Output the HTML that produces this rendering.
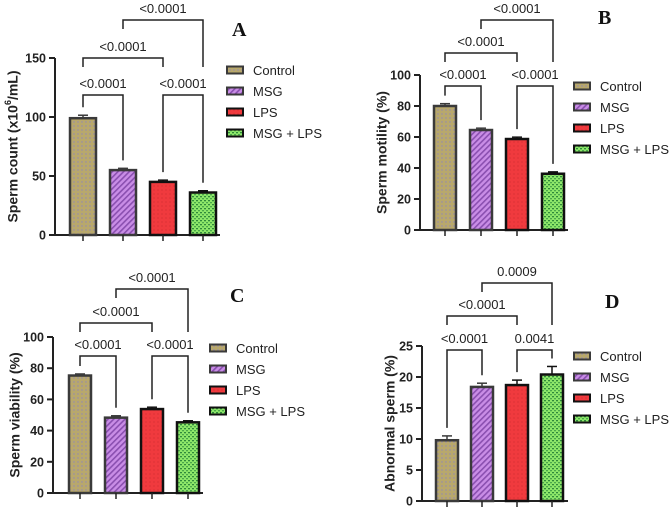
<!DOCTYPE html>
<html><head><meta charset="utf-8"><style>
html,body{margin:0;padding:0;background:#fff;}
svg{display:block;font-family:"Liberation Sans",sans-serif;}
</style></head><body>
<svg id="fig" width="669" height="509" viewBox="0 0 669 509">
<defs>
<pattern id="pCtrl" width="4" height="4" patternUnits="userSpaceOnUse"><rect width="4" height="4" fill="#b8a86c"/><circle cx="2" cy="2" r="0.7" fill="#8f86b8"/></pattern>
<pattern id="pMsg" width="4" height="4" patternUnits="userSpaceOnUse" patternTransform="rotate(45)"><rect width="4" height="4" fill="#c98de6"/><rect width="1.6" height="4" fill="#8a4fb0"/></pattern>
<pattern id="pLps" width="4" height="4" patternUnits="userSpaceOnUse"><rect width="4" height="4" fill="#f03a3e"/><circle cx="2" cy="2" r="0.6" fill="#d02a30"/></pattern>
<pattern id="pMix" width="4" height="4" patternUnits="userSpaceOnUse"><rect width="4" height="4" fill="#8ee86a"/><rect x="0" y="0" width="2" height="1.3" fill="#2f8a3a"/><rect x="2" y="2" width="2" height="1.3" fill="#4aa84a"/></pattern>
</defs>
</svg>
<script>
const groups = ["Control","MSG","LPS","MSG + LPS"];
const valuesA = [99, 55, 45, 36];
const errorsA = [2.5, 1.5, 1.5, 1.5];
const valuesB = [80, 64.5, 58.7, 36.3];
const errorsB = [1.5, 1.2, 1.2, 1.2];
const valuesC = [75.3, 48.3, 53.8, 45.3];
const errorsC = [1, 1.2, 1.2, 1];
const valuesD = [9.8, 18.4, 18.7, 20.4];
const errorsD = [0.7, 0.6, 0.8, 1.3];
const ticksA = [0, 50, 100, 150];
const ticksB = [0, 20, 40, 60, 80, 100];
const ticksC = [0, 20, 40, 60, 80, 100];
const ticksD = [0, 5, 10, 15, 20, 25];
const pLabelsA = ["<0.0001","<0.0001","<0.0001","<0.0001"];
const pLabelsB = ["<0.0001","<0.0001","<0.0001","<0.0001"];
const pLabelsC = ["<0.0001","<0.0001","<0.0001","<0.0001"];
const pLabelsD = ["<0.0001","0.0041","<0.0001","0.0009"];

const fills = ["url(#pCtrl)","url(#pMsg)","url(#pLps)","url(#pMix)"];
const strokes = ["#3a3a3a","#3a3a3a","#111","#111"];
const svg = document.getElementById('fig');
const NS = "http://www.w3.org/2000/svg";
function mk(tag, attrs, parent){const e=document.createElementNS(NS,tag);for(const k in attrs)e.setAttribute(k,attrs[k]);(parent||svg).appendChild(e);return e;}

const panels = [
 {id:"a",vals:valuesA,errs:errorsA,ticks:ticksA,p:pLabelsA,ax:55,y0:235,yTop:58,cx0:83,step:40,bw:26,xEnd:220,lv:[95,58,20],lx:227,ly:70,letter:"A",ltx:232,lty:36,ylx:14,yl:"Sperm count (x10<tspan baseline-shift='super' font-size='9'>6</tspan>/mL)"},
 {id:"b",vals:valuesB,errs:errorsB,ticks:ticksB,p:pLabelsB,ax:420,y0:230,yTop:75,cx0:445,step:36,bw:22,xEnd:568,lv:[86,53,20],lx:574,ly:86,letter:"B",ltx:598,lty:24,ylx:383,yl:"Sperm motility (%)"},
 {id:"c",vals:valuesC,errs:errorsC,ticks:ticksC,p:pLabelsC,ax:53,y0:493,yTop:337,cx0:80,step:36,bw:22,xEnd:203,lv:[356,323,289],lx:210,ly:348,letter:"C",ltx:230,lty:302,ylx:16,yl:"Sperm viability (%)"},
 {id:"d",vals:valuesD,errs:errorsD,ticks:ticksD,p:pLabelsD,ax:422,y0:501,yTop:346,cx0:447,step:35,bw:22,xEnd:568,lv:[350,316,283],lx:574,ly:356,letter:"D",ltx:605,lty:308,ylx:391,yl:"Abnormal sperm (%)"}
];

panels.forEach(P=>{
  const g = mk('g',{});
  
  
  const max = P.ticks[P.ticks.length-1];
  const y = v => P.y0 - (v/max)*(P.y0-P.yTop);
  const x = i => P.cx0 + i*P.step;
  const ya = mk('line',{x1:P.ax,y1:P.yTop,x2:P.ax,y2:P.y0,stroke:"#222","stroke-width":2},g);
  
  
  const xa = mk('line',{x1:P.ax,y1:P.y0,x2:P.xEnd,y2:P.y0,stroke:"#222","stroke-width":2},g);
  
  
  P.ticks.forEach(t=>{
    mk('line',{x1:P.ax-6,y1:y(t),x2:P.ax,y2:y(t),stroke:"#222","stroke-width":2},g);
    const tl = mk('text',{x:P.ax-9,y:y(t)+4.5,"text-anchor":"end","font-size":12.5,"font-weight":"bold",fill:"#222"},g);
    tl.textContent = t;
    
    
  });
  P.vals.forEach((v,i)=>{
    const cx = x(i);
    const top = y(v), et = y(v+P.errs[i]);
    mk('line',{x1:cx,y1:et,x2:cx,y2:top,stroke:strokes[i],"stroke-width":1.5},g);
    mk('line',{x1:cx-5,y1:et,x2:cx+5,y2:et,stroke:strokes[i],"stroke-width":1.5},g);
    const b = mk('rect',{x:cx-P.bw/2,y:top,width:P.bw,height:P.y0-top,fill:fills[i],stroke:strokes[i],"stroke-width":2.5},g);
    
    
    mk('line',{x1:cx,y1:P.y0,x2:cx,y2:P.y0+6,stroke:"#222","stroke-width":1.5},g);
  });
  const br = [[0,1,0,0],[2,3,0,1],[0,2,1,2],[1,3,2,3]];
  br.forEach(([i,j,l,k])=>{
    const by = P.lv[l];
    let bl, brr;
    if(l===0){bl=y(P.vals[i]+P.errs[i])-8; brr=y(P.vals[j]+P.errs[j])-8;}
    else if(l===1){bl=by+9; brr=by+9;}
    else {bl=by+9; brr=P.lv[1]+9;}
    const path = mk('path',{d:`M${x(i)},${bl}V${by}H${x(j)}V${brr}`,fill:"none",stroke:"#222","stroke-width":1.5},g);
    
    
    const t = mk('text',{x:(x(i)+x(j))/2,y:by-7,"text-anchor":"middle","font-size":13,fill:"#222"},g);
    t.textContent = P.p[k];
    
    
  });
  const yl = mk('text',{x:P.ylx,y:(P.yTop+P.y0)/2,"text-anchor":"middle","font-size":14,"font-weight":"bold",fill:"#222",transform:`rotate(-90 ${P.ylx} ${(P.yTop+P.y0)/2})`,"dominant-baseline":"middle"},g);
  yl.innerHTML = P.yl;
  
  
  groups.forEach((n,i)=>{
    const ly = P.ly + i*21;
    const sw = mk('rect',{x:P.lx,y:ly-3.5,width:16,height:7,fill:fills[i],stroke:strokes[i],"stroke-width":2},g);
    
    
    const lt = mk('text',{x:P.lx+26,y:ly+5,"font-size":13,fill:"#222"},g);
    lt.textContent = n;
    
    
  });
  const L = mk('text',{x:P.ltx,y:P.lty,"font-family":"Liberation Serif, serif","font-size":20,"font-weight":"bold",fill:"#111"},g);
  L.textContent = P.letter;
  
  
});
</script>
</body></html>
